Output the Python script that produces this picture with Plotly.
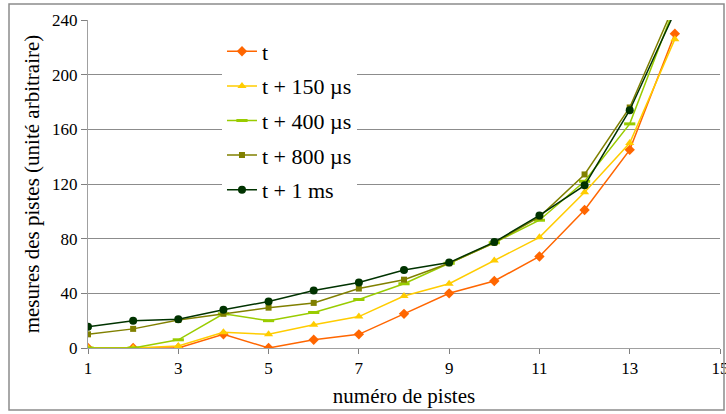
import plotly.graph_objects as go

pistes = [1, 2, 3, 4, 5, 6, 7, 8, 9, 10, 11, 12, 13, 14]
serie_t = [0, 0, 0, 10, 0, 6, 10, 25, 40, 49, 67, 101, 145, 230]
serie_t150 = [0, 0, 1.5, 11.5, 10, 17, 23, 38, 47, 64, 81, 114, 150, 226]
serie_t400 = [0, 0, 6, 25, 20, 26, 35.5, 47, 62, 77, 93.5, 122, 164, 250]
serie_t800 = [10, 14, 20.5, 25, 29.5, 33, 43.5, 50, 62, 77, 96, 127, 176, 252]
serie_t1ms = [15.5, 20, 21, 28, 34, 42, 48, 57, 62.5, 77.5, 97, 119, 174, 246]

noms = ["t", "t + 150 µs", "t + 400 µs", "t + 800 µs", "t + 1 ms"]
x_ticks = [1, 3, 5, 7, 9, 11, 13, 15]
y_ticks = [0, 40, 80, 120, 160, 200, 240]

series = [serie_t, serie_t150, serie_t400, serie_t800, serie_t1ms]
couleurs = ["#FF6600", "#FFCC00", "#99CC00", "#808000", "#003300"]
symboles = ["diamond", "triangle-up", "line-ew", "square", "circle"]
tailles = [8, 8, 8, 6, 8]

FONT = "Liberation Serif"

fig = go.Figure()
for i, (nom, vals) in enumerate(zip(noms, series)):
    marker = dict(symbol=symboles[i], size=tailles[i], color=couleurs[i])
    if symboles[i] == "line-ew":
        marker["line"] = dict(color=couleurs[i], width=3)
    fig.add_trace(go.Scatter(
        x=pistes, y=vals, name=nom, mode="lines+markers",
        line=dict(color=couleurs[i], width=1.5),
        marker=marker, legendgroup="g%d" % i,
    ))

fig.update_layout(
    width=726, height=414,
    margin=dict(l=88, r=6, t=20, b=66),
    paper_bgcolor="white", plot_bgcolor="white",
    font=dict(family=FONT, color="black", size=17),
    showlegend=True,
    legend=dict(
        x=0.212, y=0.968, xanchor="left", yanchor="top",
        bgcolor="white", borderwidth=0,
        font=dict(family=FONT, size=22, color="black"),
        tracegroupgap=3, traceorder="grouped",
    ),
    xaxis=dict(
        range=[1, 15], tickvals=x_ticks, ticktext=[str(v) for v in x_ticks],
        showgrid=False, zeroline=False, showline=True, linecolor="#a0a0a0",
        linewidth=1, ticks="outside", ticklen=5, tickcolor="#808080",
        tickfont=dict(family=FONT, size=17, color="black"),
        ticklabeloverflow="allow",
        title=dict(text="numéro de pistes", standoff=10,
                   font=dict(family=FONT, size=21, color="black")),
        automargin=False,
    ),
    yaxis=dict(
        range=[0, 240], tickvals=y_ticks,
        showgrid=True, gridcolor="#8c8c8c", gridwidth=1, zeroline=False,
        showline=True, linecolor="#a0a0a0", linewidth=1,
        ticks="outside", ticklen=6, tickcolor="#808080",
        tickfont=dict(family=FONT, size=17, color="black"),
        title=dict(text="mesures des pistes (unité arbitraire)", standoff=6,
                   font=dict(family=FONT, size=21, color="black")),
        automargin=False,
    ),
    shapes=[
        dict(type="rect", xref="paper", yref="paper",
             x0=(203 - 88) / 632, x1=(379 - 88) / 632,
             y0=(348 - 201) / 328, y1=(348 - 34) / 328,
             fillcolor="white", line=dict(width=0), layer="between"),
        dict(type="rect", xref="paper", yref="paper",
             x0=(9 - 88) / 632, x1=(724 - 88) / 632,
             y0=(348 - 410) / 328, y1=(348 - 4) / 328,
             fillcolor="rgba(0,0,0,0)", line=dict(color="#8c8c8c", width=1.5),
             layer="above"),
    ],
)

fig.write_html(
    "out.html",
    config={"displayModeBar": False},
    post_script="document.body.style.margin='0';document.body.style.padding='0';"
                "document.body.style.overflow='hidden';",
)
